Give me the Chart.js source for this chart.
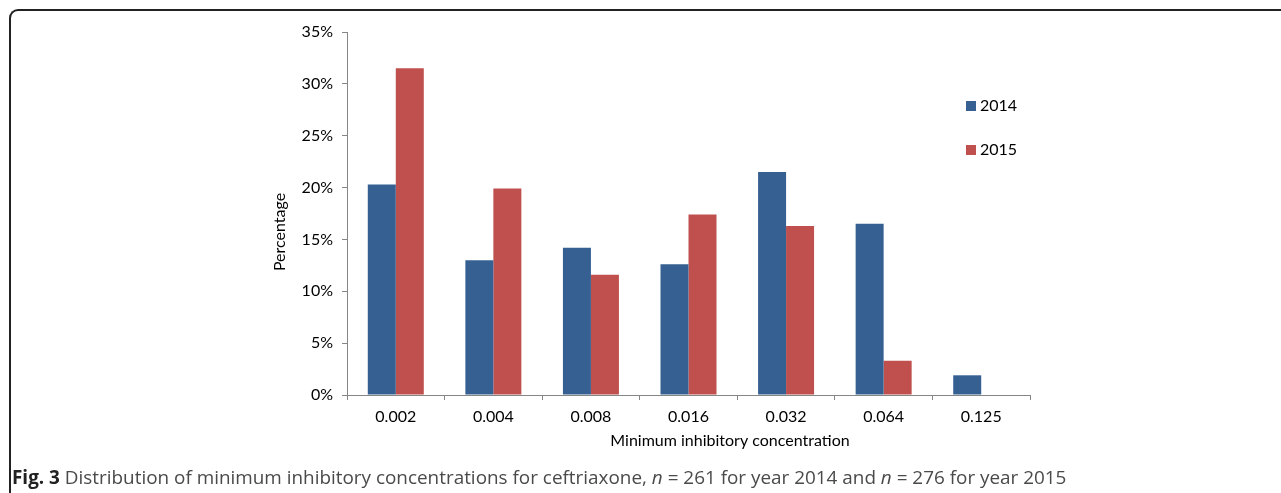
<!DOCTYPE html>
<html>
<head>
<meta charset="utf-8">
<script src="https://cdn.jsdelivr.net/npm/chart.js@4/dist/chart.umd.min.js"></script>
<style>
    html, body { margin: 0; padding: 0; background: #fff; }
    #wrap { position: relative; width: 1281px; height: 493px; overflow: hidden; }
    #frame {
        position: absolute; left: 9px; top: 9px; width: 1400px; height: 600px;
        border-left: 2px solid #222; border-top: 2px solid #222;
        border-top-left-radius: 9px; box-sizing: border-box;
    }
    #chartBox { position: absolute; left: 0; top: 0; width: 1281px; height: 493px; }
    #caption {
        position: absolute; left: 12px; top: 464px; white-space: nowrap;
        font-family: 'Open Sans', sans-serif; font-size: 18.9px; color: #4a4a4a;
    }
    #caption b { color: #222; }
</style>
</head>
<body>
<div id="wrap">
    <div id="frame"></div>
    <div id="chartBox"><canvas id="micChart" width="1281" height="493"></canvas></div>
    <div id="caption"><b>Fig. 3</b> Distribution of minimum inhibitory concentrations for ceftriaxone, <i>n</i> = 261 for year 2014 and <i>n</i> = 276 for year 2015</div>
</div>
<script>
// data (persen)
const categories = ['0.002', '0.004', '0.008', '0.016', '0.032', '0.064', '0.125'];
const seriesNames = ['2014', '2015'];
const values2014 = [20.3, 13.0, 14.2, 12.6, 21.5, 16.5, 1.9];
const values2015 = [31.5, 19.9, 11.6, 17.4, 16.3, 3.3, 0];
const yTicks = [0, 5, 10, 15, 20, 25, 30, 35];
const xTitle = 'Minimum inhibitory concentration';
const yTitle = 'Percentage';

const axisColor = '#868686';
const fontFamily = "Lato, 'Open Sans', sans-serif";
const fontSize = 16;

// legenda manual di kanan (vertikal, jarak lebar)
const sideLegend = {
    id: 'sideLegend',
    afterDraw(chart, args, opts) {
        const ctx = chart.ctx;
        ctx.save();
        ctx.font = fontSize + 'px ' + fontFamily;
        ctx.textBaseline = 'middle';
        chart.data.datasets.forEach((ds, i) => {
            const y = opts.top + i * opts.gap;
            ctx.fillStyle = ds.backgroundColor;
            ctx.fillRect(opts.left, y, 10, 10);
            ctx.fillStyle = '#000';
            ctx.fillText(ds.label, opts.left + 14, y + 5);
        });
        ctx.restore();
    }
};

// judul sumbu tidak di tengah sumbu (seperti Excel), jadi digambar sendiri
const axisTitles = {
    id: 'axisTitles',
    afterDraw(chart, args, opts) {
        const ctx = chart.ctx;
        ctx.save();
        ctx.font = fontSize + 'px ' + fontFamily;
        ctx.fillStyle = '#000';
        ctx.textAlign = 'center';
        ctx.textBaseline = 'middle';
        ctx.fillText(xTitle, opts.xPos[0], opts.xPos[1]);
        ctx.translate(opts.yPos[0], opts.yPos[1]);
        ctx.rotate(-Math.PI / 2);
        ctx.fillText(yTitle, 0, 0);
        ctx.restore();
    }
};

const ctx = document.getElementById('micChart').getContext('2d');
const chart = new Chart(ctx, {
    type: 'bar',
    data: {
        labels: categories,
        datasets: [
            { label: seriesNames[0], data: values2014, backgroundColor: '#366092' },
            { label: seriesNames[1], data: values2015, backgroundColor: '#C0504D' }
        ]
    },
    plugins: [sideLegend, axisTitles],
    options: {
        responsive: false,
        animation: false,
        layout: { padding: { left: 266, right: 251, top: 32, bottom: 38 } },
        datasets: {
            bar: { categoryPercentage: 0.574, barPercentage: 1.0 }
        },
        plugins: {
            legend: { display: false },
            tooltip: { enabled: false },
            sideLegend: { left: 966, top: 101, gap: 44 },
            axisTitles: { xPos: [730, 441], yPos: [280, 232] }
        },
        scales: {
            x: {
                grid: { offset: true, drawOnChartArea: false, drawTicks: true, tickLength: 5, color: axisColor },
                border: { color: axisColor },
                ticks: { color: '#000', padding: 7, font: { family: fontFamily, size: fontSize } },
                afterFit: s => { s.height = 60; }
            },
            y: {
                min: 0,
                max: 35,
                afterBuildTicks: s => { s.ticks = yTicks.map(v => ({ value: v })); },
                grid: { drawOnChartArea: false, drawTicks: true, tickLength: 5, color: axisColor },
                border: { color: axisColor },
                ticks: {
                    color: '#000', padding: 9, font: { family: fontFamily, size: fontSize },
                    callback: v => v + '%'
                },
                afterFit: s => { s.width = 81; }
            }
        }
    }
});
</script>
</body>
</html>
